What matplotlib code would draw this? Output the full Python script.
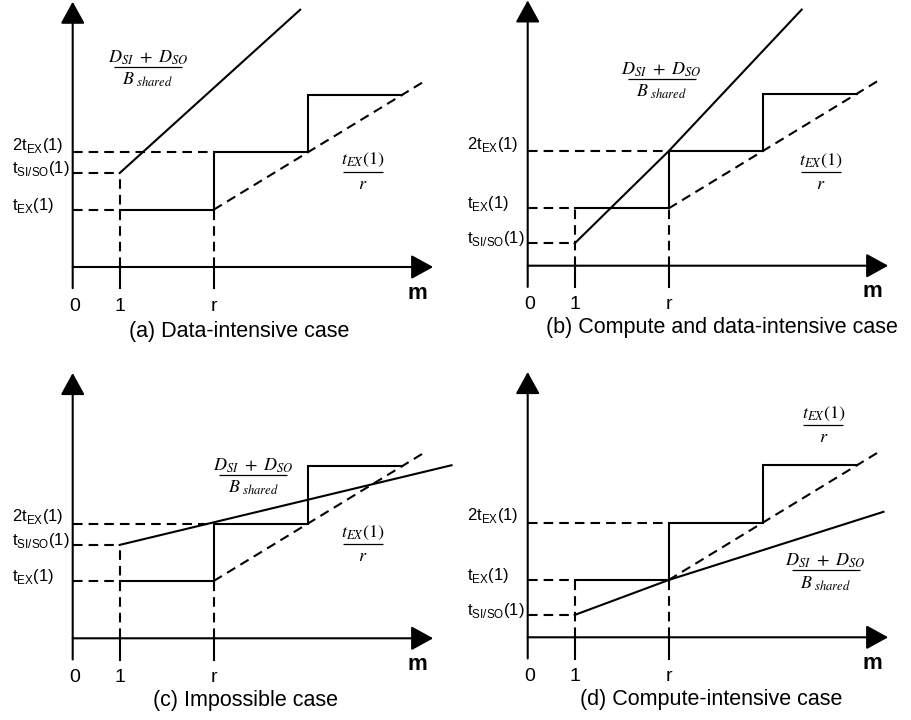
import matplotlib
matplotlib.use('Agg')
import matplotlib.pyplot as plt

W, H = 911, 720
fig = plt.figure(figsize=(W / 100, H / 100), dpi=100)
SANS = 'Liberation Sans'

# ---- data (y in units of t_EX(1), x in units of m; r drawn at 3) ----
level_2tex = 2.0
level_tex = 1.0
step_x = [1, 3, 3, 5, 5, 7]
step_y = [1, 1, 2, 2, 3, 3]
ideal_x = [3, 7.5]
ideal_y = [1, 3.25]
m_ticks = [0, 1, 3]
m_tick_labels = ['0', '1', 'r']
captions = ['(a) Data-intensive case',
            '(b) Compute and data-intensive case',
            '(c) Impossible case',
            '(d) Compute-intensive case']
t_siso = [1.64, 0.39, 1.63, 0.39]
bw_x = [[1, 4.84], [1, 3, 5.83], [1, 8.06], [1, 3, 7.57]]
bw_y = [[1.64, 4.49], [0.39, 2, 4.47], [1.63, 3.02], [0.39, 1, 2.19]]
bw_label_pos = [(1.6, 3.49), (2.85, 3.26), (3.84, 2.85), (6.34, 1.17)]
ratio_label_pos = [(6.17, 1.66), (6.23, 1.63), (6.18, 1.64), (6.29, 3.7)]
caption_pos = [(3.54, -1.23), (4.13, -1.18), (3.68, -1.19), (3.91, -1.19)]

# ---- layout (pixel origin of each panel) ----
origins = [(72.7, 267.0), (527.7, 265.7), (72.7, 638.3), (527.7, 637.3)]
UX, UY = 47.0, 57.3
X0, X1, Y0, Y1 = -1.45, 8.4, -1.35, 4.64

LW = 1.5
DASH = (0, (4.6, 2.9))


def fraction(ax, x, y, num, den, bar_px, num_off, den_off, size=13):
    """Stacked fraction label centred on its bar at data point (x, y)."""
    ax.annotate(num, xy=(x, y), xytext=(0, num_off), textcoords='offset points',
                ha='center', va='baseline', fontsize=size,
                math_fontfamily='stix', annotation_clip=False)
    ax.annotate(den, xy=(x, y), xytext=(0, den_off), textcoords='offset points',
                ha='center', va='baseline', fontsize=size,
                math_fontfamily='stix', annotation_clip=False)
    half = bar_px / 2 / UX
    ax.plot([x - half, x + half], [y, y], color='black', lw=0.9,
            solid_capstyle='butt', clip_on=False)


for i in range(4):
    ox, oy = origins[i]
    left = (ox + X0 * UX) / W
    width = (X1 - X0) * UX / W
    bottom = 1 - (oy - Y0 * UY) / H
    height = (Y1 - Y0) * UY / H
    ax = fig.add_axes([left, bottom, width, height])
    ax.set_xlim(X0, X1)
    ax.set_ylim(Y0, Y1)
    ax.axis('off')
    ax.patch.set_visible(False)

    arrow = dict(arrowstyle='-|>,head_length=0.4,head_width=0.22',
                 mutation_scale=34, lw=LW, color='black',
                 shrinkA=0, shrinkB=0)
    ax.annotate('', xy=(0, 4.63), xytext=(0, -0.37), arrowprops=arrow,
                annotation_clip=False)
    ax.annotate('', xy=(7.67, 0), xytext=(0, 0), arrowprops=arrow,
                annotation_clip=False)

    # tick stubs
    for t in m_ticks[1:]:
        ax.plot([t, t], [0, -0.37], color='black', lw=LW, clip_on=False)

    ts = t_siso[i]
    # dashed guides
    ax.plot([0, 1], [ts, ts], color='black', lw=LW, ls=DASH)
    ax.plot([0, 1], [level_tex, level_tex], color='black', lw=LW, ls=DASH)
    ax.plot([0, 3], [level_2tex, level_2tex], color='black', lw=LW, ls=DASH)
    ax.plot([1, 1], [0, max(ts, level_tex)], color='black', lw=LW, ls=DASH)
    ax.plot([3, 3], [0, level_tex], color='black', lw=LW, ls=DASH)

    # step curve, ideal line, bandwidth line
    ax.plot(step_x, step_y, color='black', lw=LW, solid_joinstyle='miter')
    ax.plot(ideal_x, ideal_y, color='black', lw=LW, ls=DASH)
    ax.plot(bw_x[i], bw_y[i], color='black', lw=LW, clip_on=False)

    # y labels
    ylabels = [(level_2tex + 0.04, '2t$_\\mathregular{EX}$(1)'),
               (ts, 't$_\\mathregular{SI/SO}$(1)'),
               (level_tex, 't$_\\mathregular{EX}$(1)')]
    for yv, s in ylabels:
        ax.text(-1.3, yv, s, family=SANS, fontsize=12, ha='left',
                va='baseline', clip_on=False)

    # x tick labels
    for t, s in zip(m_ticks, m_tick_labels):
        ax.text(t + (0.05 if t == 0 else 0), -0.76, s, family=SANS,
                fontsize=14, ha='center', va='baseline')
    ax.text(7.33, -0.55, 'm', family=SANS, fontsize=16, fontweight='bold',
            ha='center', va='baseline')

    # formula labels
    bx, by = bw_label_pos[i]
    fraction(ax, bx, by, r'$D_{SI}\ +\ D_{SO}$', r'$B_{\ shared}$',
             bar_px=68, num_off=3.0, den_off=-13.0)
    rx, ry = ratio_label_pos[i]
    fraction(ax, rx, ry, r'$t_{EX}(1)$', r'$r$',
             bar_px=40, num_off=5.5, den_off=-12.0)

    cx, cy = caption_pos[i]
    ax.text(cx, cy, captions[i], family=SANS, fontsize=15.5, ha='center',
            va='baseline', clip_on=False)

fig.savefig('out.png', dpi=100)
